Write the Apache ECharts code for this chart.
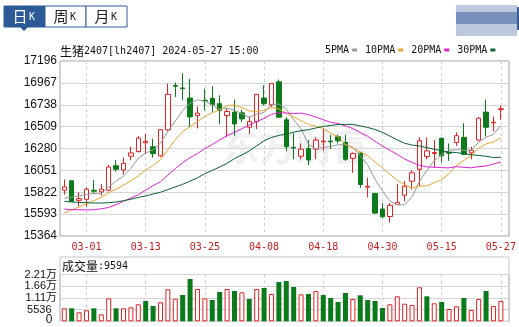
<!DOCTYPE html>
<html>
<head>
<meta charset="utf-8">
<script src="https://cdn.jsdelivr.net/npm/echarts@6/dist/echarts.min.js"></script>
<style>
html, body { margin: 0; padding: 0; background: #fff; }
#main { width: 519px; height: 327px; }
</style>
</head>
<body>
<div id="main"></div>
<script>
// 交易日
var dates = ['02-27','02-28','02-29','03-01','03-04','03-05','03-06','03-07','03-08','03-11',
  '03-12','03-13','03-14','03-15','03-18','03-19','03-20','03-21','03-22','03-25',
  '03-26','03-27','03-28','03-29','04-01','04-02','04-03','04-08','04-09','04-10',
  '04-11','04-12','04-15','04-16','04-17','04-18','04-19','04-22','04-23','04-24',
  '04-25','04-26','04-29','04-30','05-06','05-07','05-08','05-09','05-10','05-13',
  '05-14','05-15','05-16','05-17','05-20','05-21','05-22','05-23','05-24','05-27'];
// K线 开 收 低 高
var openP = [15843,15942,15737,15748,15843,15826,15843,16100,16055,16199,
  16248,16340,16298,16203,16474,16939,16914,16808,16625,16784,
  16805,16749,16625,16661,16653,16502,16562,16808,16738,16978,
  16580,16291,16199,16280,16273,16350,16358,16403,16343,16178,
  16231,15875,15808,15646,15568,15692,15790,15938,16062,16196,
  16227,16386,16238,16343,16396,16234,16368,16661,16548,16689];
var closeP = [15878,15727,15755,15854,15833,15854,16086,16062,16125,16234,
  16389,16354,16227,16477,16847,16932,16907,16611,16650,16777,
  16738,16678,16668,16537,16590,16562,16847,16749,16960,16608,
  16298,16284,16273,16160,16368,16358,16350,16361,16167,16227,
  15903,15885,15604,15565,15685,15716,15885,16026,16361,16255,
  16238,16203,16231,16414,16220,16262,16597,16502,16555,16696];
var lowP = [15797,15725,15674,15674,15815,15787,15833,16037,16009,16157,
  16238,16220,16185,16192,16460,16819,16784,16502,16491,16678,
  16661,16537,16403,16414,16555,16431,16484,16731,16713,16600,
  16255,16167,16167,16107,16167,16255,16273,16333,16150,16026,
  15868,15769,15593,15551,15505,15692,15727,15850,15885,16167,
  16079,16132,16150,16308,16210,16167,16361,16407,16460,16580];
var highP = [15956,15945,15822,15875,15949,15907,16107,16160,16185,16298,
  16410,16435,16382,16484,16960,16971,17066,17009,16720,16907,
  16932,16837,16696,16791,16685,16615,16850,16942,16965,17002,
  16608,16439,16333,16368,16396,16484,16424,16424,16424,16238,
  16245,15974,15815,15709,15709,15910,15938,16051,16396,16396,
  16368,16396,16333,16449,16544,16298,16608,16791,16615,16731];
// 均线
var ma5 = [15760,15770,15785,15800,15809,15805,15876,15938,15992,16072,
  16179,16233,16266,16336,16459,16567,16678,16755,16789,16775,
  16737,16691,16702,16680,16642,16607,16641,16657,16742,16745,
  16692,16580,16485,16325,16277,16289,16302,16319,16321,16293,
  16202,16109,15957,15837,15728,15691,15691,15775,15935,16049,
  16153,16217,16258,16268,16261,16266,16345,16399,16427,16522];
var ma10 = [15604,15639,15667,15702,15734,15769,15815,15854,15896,15941,
  15992,16055,16102,16164,16266,16373,16455,16510,16563,16617,
  16652,16684,16729,16735,16709,16672,16666,16680,16711,16694,
  16650,16610,16571,16533,16511,16490,16441,16402,16323,16285,
  16245,16205,16138,16079,16011,15946,15900,15866,15886,15889,
  15922,15954,16017,16101,16155,16210,16281,16328,16348,16392];
var ma20 = [15646,15639,15639,15636,15639,15649,15663,15692,15727,15762,
  15797,15843,15892,15931,16002,16069,16132,16185,16227,16279,
  16322,16370,16415,16449,16487,16523,16561,16595,16637,16655,
  16651,16647,16650,16634,16610,16581,16553,16541,16517,16489,
  16447,16408,16355,16306,16261,16218,16170,16134,16104,16087,
  16084,16080,16077,16090,16083,16078,16090,16097,16117,16140];
var ma30 = [15727,15720,15716,15713,15709,15709,15713,15720,15734,15748,
  15769,15783,15804,15822,15850,15878,15905,15938,15973,16016,
  16051,16086,16125,16174,16213,16255,16308,16361,16396,16417,
  16431,16450,16467,16477,16495,16512,16521,16531,16532,16532,
  16516,16500,16479,16449,16410,16370,16335,16316,16306,16289,
  16272,16256,16242,16238,16225,16215,16207,16199,16185,16188];
// 成交量 及 涨跌(1 红 0 绿)
var volume = [6150,6150,4260,5200,6150,3310,10880,6150,6150,6620,
  8040,9600,7240,8990,15140,10690,12440,20010,15280,10880,
  10080,13870,15280,14340,13720,10550,15280,15760,12920,18600,
  19070,16230,12760,12920,14340,12440,11030,9130,13390,10550,
  12300,10080,9600,6290,8040,11830,8330,7710,16090,11830,
  8520,9130,5820,7100,11030,5350,10550,14340,7240,9594];
var volUp = [1,0,1,1,0,1,1,0,1,1, 1,0,0,1,1,1,0,0,1,1,
  0,0,1,0,1,0,1,0,1,0, 0,0,1,0,1,0,0,0,0,1,
  0,0,0,0,1,1,1,1,1,0, 1,0,1,1,0,1,1,0,1,1];
// 坐标刻度
var yTicks = [15364,15593,15822,16051,16280,16509,16738,16967,17196];
var volTicks = [0,5536,11072,16608,22144];
var volLabels = [5536,11072,16608,22144];
var labelIdx = [3,11,19,27,35,43,51,59];

var RED = '#e02222';
var GREEN = '#0a7a1a';
var mono = 'DejaVu Sans Mono';
var cjk = 'Noto Sans CJK SC';

var chart = echarts.init(document.getElementById('main'));

var kData = dates.map(function (d, i) {
  return [i, openP[i], closeP[i], lowP[i], highP[i]];
});
function maData(arr) {
  return arr.map(function (v, i) { return [i, v]; });
}
var volData = volume.map(function (v, i) {
  return {
    value: [i, v],
    itemStyle: volUp[i]
      ? { color: '#fff', borderColor: RED, borderWidth: 1 }
      : { color: GREEN }
  };
});

var xCommon = {
  type: 'value',
  min: -0.58,
  max: 60.1,
  axisLine: { show: false },
  axisTick: { show: false, customValues: labelIdx },
  splitLine: { show: true, lineStyle: { color: '#cfcfcf', type: [3, 3] } }
};

function volFmt(v) {
  return v >= 10000 ? (v / 10000).toFixed(2) + '万' : v + '\u2002';
}

// 日K 周K 月K 按钮
function tab(x, txt, on) {
  var c = on ? '#fff' : '#222';
  return {
    type: 'group',
    children: [
      { type: 'rect', shape: { x: x, y: 6, width: 41, height: 21 },
        style: { fill: on ? '#2c5a96' : '#fff', stroke: '#2c5a96', lineWidth: 1 } },
      { type: 'text', x: x + 16, y: 16.5,
        style: { text: txt, fontFamily: cjk, fontSize: 15, fill: c,
          align: 'center', verticalAlign: 'middle' } },
      { type: 'text', x: x + 28, y: 17.5,
        style: { text: 'K', fontFamily: mono, fontSize: 10, fill: c,
          align: 'center', verticalAlign: 'middle' } }
    ]
  };
}

var option = {
  animation: false,
  backgroundColor: '#fff',
  legend: {
    left: 325,
    top: 45,
    icon: 'rect',
    itemWidth: 5,
    itemHeight: 3,
    itemGap: 8,
    align: 'right',
    padding: 0,
    data: ['5PMA', '10PMA', '20PMA', '30PMA'],
    textStyle: { fontFamily: mono, fontSize: 10, color: '#111', padding: [0, -2, 0, 0] }
  },
  grid: [
    { left: 60, top: 61, width: 449, height: 175, show: true,
      borderColor: '#a0a0a0', borderWidth: 1 },
    { left: 60, top: 274.5, width: 449, height: 46.8, show: true,
      borderColor: '#a0a0a0', borderWidth: 1 }
  ],
  xAxis: [
    Object.assign({}, xCommon, {
      gridIndex: 0,
      axisLabel: {
        customValues: labelIdx,
        formatter: function (v) { return dates[v]; },
        color: '#c41e1e', fontFamily: mono, fontSize: 10, margin: 6
      }
    }),
    Object.assign({}, xCommon, { gridIndex: 1, axisLabel: { show: false } })
  ],
  yAxis: [
    { type: 'value', gridIndex: 0, min: 15364, max: 17196, scale: true,
      axisLine: { show: false },
      axisTick: { show: false, customValues: yTicks },
      axisLabel: { customValues: yTicks, color: '#111', fontFamily: 'Liberation Sans',
        fontSize: 12, margin: 3, hideOverlap: false, showMinLabel: true, showMaxLabel: true,
        formatter: function (v) { return String(v); } },
      splitLine: { lineStyle: { color: '#d6d6d6' } } },
    { type: 'value', gridIndex: 1, min: 0, max: 22144,
      axisLine: { show: false },
      axisTick: { show: false, customValues: volTicks },
      axisLabel: { customValues: volLabels, interval: 0, color: '#111',
        fontFamily: 'Liberation Sans, ' + cjk, fontSize: 11, lineHeight: 10, margin: 3,
        hideOverlap: false, showMinLabel: true, showMaxLabel: true,
        formatter: volFmt },
      splitLine: { lineStyle: { color: '#d6d6d6' } } }
  ],
  graphic: [
    tab(4, '日', true),
    tab(45, '周', false),
    tab(86, '月', false),
    { type: 'polygon', shape: { points: [[20, 27], [28, 27], [24, 31]] },
      style: { fill: '#2c5a96' } },
    // 右上角模糊图块
    { type: 'rect', shape: { x: 456, y: 5, width: 61, height: 31 }, style: { fill: '#bcc8de' } },
    { type: 'rect', shape: { x: 456, y: 12, width: 61, height: 12 }, style: { fill: '#7891bd' } },
    { type: 'rect', shape: { x: 517, y: 7, width: 2, height: 23 }, style: { fill: '#3a5a96' } },
    // 水印
    { type: 'text', x: 222, y: 147, z: -1,
      style: { text: '东方财富', fontFamily: cjk, fontWeight: 'bold', fontSize: 37,
        fill: 'rgba(120,110,130,0.11)', verticalAlign: 'middle' } },
    // 标题
    { type: 'text', x: 60, y: 51,
      style: { text: '{a|生猪}{b|2407[lh2407] 2024-05-27 15:00}', verticalAlign: 'middle',
        rich: { a: { fontFamily: cjk, fontSize: 12, fill: '#111' },
                b: { fontFamily: mono, fontSize: 10, fill: '#111' } } } },
    // 成交量标题栏
    { type: 'rect', shape: { x: 60, y: 257, width: 449, height: 17.5 },
      style: { fill: 'none', stroke: '#c4c4c4', lineWidth: 1 } },
    { type: 'text', x: 62, y: 266,
      style: { text: '{a|成交量}{b|:9594}', verticalAlign: 'middle',
        rich: { a: { fontFamily: cjk, fontSize: 12, fill: '#111' },
                b: { fontFamily: mono, fontSize: 10, fill: '#111' } } } },
    // 成交量零刻度(轴标签会因重叠被隐藏)
    { type: 'text', x: 52.5, y: 319.5, z: 100,
      style: { text: '0', fontFamily: 'Liberation Sans', fontSize: 12, fill: '#111',
        align: 'right', verticalAlign: 'middle' } }
  ],
  series: [
    { type: 'candlestick', name: 'K', xAxisIndex: 0, yAxisIndex: 0,
      data: kData, barWidth: 5,
      itemStyle: { color: '#fff', color0: GREEN, borderColor: RED, borderColor0: GREEN, borderWidth: 1 } },
    { type: 'line', name: '5PMA', data: maData(ma5), showSymbol: false, color: '#9a9a9a',
      lineStyle: { width: 1 } },
    { type: 'line', name: '10PMA', data: maData(ma10), showSymbol: false, color: '#e9a630',
      lineStyle: { width: 1 } },
    { type: 'line', name: '20PMA', data: maData(ma20), showSymbol: false, color: '#e020d8',
      lineStyle: { width: 1 } },
    { type: 'line', name: '30PMA', data: maData(ma30), showSymbol: false, color: '#0d6133',
      lineStyle: { width: 1 } },
    { type: 'bar', name: 'VOL', xAxisIndex: 1, yAxisIndex: 1, data: volData, barWidth: 5 }
  ]
};
chart.setOption(option);
</script>
</body>
</html>
